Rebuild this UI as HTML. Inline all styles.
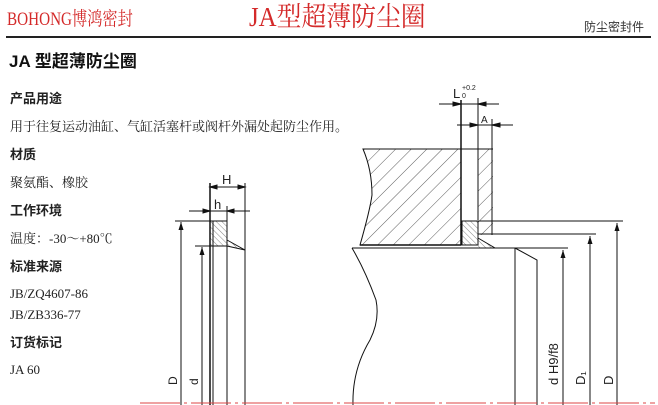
<!DOCTYPE html>
<html><head><meta charset="utf-8"><style>
body{margin:0;width:658px;height:405px;background:#fff;position:relative;overflow:hidden;font-family:"Liberation Serif","Noto Serif CJK SC",serif;}
.t{position:absolute;white-space:nowrap;line-height:1;}
.b{font-family:"Liberation Sans","Noto Sans CJK SC",sans-serif;font-weight:bold;font-size:13px;color:#222;}
.n{font-size:13px;color:#222;}
</style></head><body>
<div class="t" style="left:7px;top:10px;font-size:19px;color:#d42a2a;transform:scaleX(0.8);transform-origin:left;">BOHONG博鸿密封</div>
<div class="t" style="left:249px;top:4px;font-size:27px;color:#d42a2a;transform:scaleX(0.92);transform-origin:left;">JA型超薄防尘圈</div>
<div class="t" style="left:584px;top:21px;font-size:12px;color:#333;font-family:'Liberation Sans','Noto Sans CJK SC',sans-serif;">防尘密封件</div>
<div style="position:absolute;left:6px;top:36px;width:645px;height:2px;background:#222"></div>
<div class="t" style="left:9px;top:53px;font-size:17px;font-weight:bold;color:#111;font-family:'Liberation Sans','Noto Sans CJK SC',sans-serif;">JA 型超薄防尘圈</div>
<div class="t b" style="left:10px;top:92px">产品用途</div>
<div class="t n" style="left:10px;top:120px">用于往复运动油缸、气缸活塞杆或阀杆外漏处起防尘作用。</div>
<div class="t b" style="left:10px;top:148px">材质</div>
<div class="t n" style="left:10px;top:176px">聚氨酯、橡胶</div>
<div class="t b" style="left:10px;top:204px">工作环境</div>
<div class="t n" style="left:10px;top:232px">温度：-30～+80℃</div>
<div class="t b" style="left:10px;top:260px">标准来源</div>
<div class="t n" style="left:10px;top:287px">JB/ZQ4607-86</div>
<div class="t n" style="left:10px;top:308px">JB/ZB336-77</div>
<div class="t b" style="left:10px;top:336px">订货标记</div>
<div class="t n" style="left:10px;top:363px">JA 60</div>
<svg width="658" height="405" style="position:absolute;left:0;top:0" xmlns="http://www.w3.org/2000/svg">
<defs>
<pattern id="h" patternUnits="userSpaceOnUse" width="11" height="11" patternTransform="rotate(45)"><line x1="0" y1="0" x2="0" y2="11" stroke="#333" stroke-width="0.8"/></pattern>
<pattern id="h2" patternUnits="userSpaceOnUse" width="4" height="4" patternTransform="rotate(-45)"><line x1="0" y1="0" x2="0" y2="4" stroke="#333" stroke-width="0.6"/></pattern>
<marker id="a" markerWidth="8" markerHeight="6" refX="8" refY="3" orient="auto"><path d="M0,0.5 L8,3 L0,5.5z" fill="#111"/></marker>
</defs>
<g stroke="#111" stroke-width="1" fill="none">
<rect x="210" y="221" width="17" height="25" fill="url(#h2)"/>
<path d="M227,240 L245,250 L227,246" fill="url(#h2)"/>
<line x1="210" y1="183" x2="210" y2="405" stroke-width="1.5"/>
<line x1="213" y1="221" x2="213" y2="405"/>
<line x1="227" y1="206" x2="227" y2="405"/>
<line x1="245" y1="183" x2="245" y2="405"/>
<line x1="210" y1="187" x2="245" y2="187"/>
<path d="M210,187 l7,-2 v4z M245,187 l-7,-2 v4z" fill="#111"/>
<line x1="189" y1="211" x2="250" y2="211"/>
<path d="M210,211 l-7,-2 v4z M227,211 l7,-2 v4z" fill="#111"/>
<line x1="175" y1="221" x2="210" y2="221"/>
<line x1="195" y1="246" x2="210" y2="246"/>
<line x1="181" y1="405" x2="181" y2="222" marker-end="url(#a)"/>
<line x1="202" y1="405" x2="202" y2="247" marker-end="url(#a)"/>
<path d="M363,149 L461,149 L461,245 L360,245 Q370,210 372,195 Q372,170 363,149z" fill="url(#h)"/>
<path d="M478,149 L493,149 L493,235 L478,235 L478,220 Z" fill="url(#h)" stroke="none"/>
<line x1="461" y1="149" x2="493" y2="149"/>
<line x1="461" y1="100" x2="461" y2="245" stroke-width="1.5"/>
<line x1="478" y1="98" x2="478" y2="220"/>
<line x1="492" y1="119" x2="492" y2="235"/>
<line x1="360" y1="245" x2="461" y2="245" stroke-width="1.5"/>
<rect x="462" y="221" width="16" height="24" fill="url(#h2)"/>
<path d="M478,238 L495,248 L478,248" fill="url(#h2)"/>
<line x1="478" y1="221" x2="623" y2="221"/>
<line x1="478" y1="234" x2="596" y2="234"/>
<line x1="352" y1="248" x2="568" y2="248"/>
<line x1="515" y1="248" x2="515" y2="405"/>
<path d="M515,248 L537,260 L537,405"/>
<path d="M352,248 Q365,270 376,300 Q380,320 370,340 Q352,370 353,405"/>
<line x1="563" y1="405" x2="563" y2="250" marker-end="url(#a)"/>
<line x1="590" y1="405" x2="590" y2="236" marker-end="url(#a)"/>
<line x1="617" y1="405" x2="617" y2="223" marker-end="url(#a)"/>
<line x1="439" y1="104" x2="499" y2="104"/>
<path d="M461,104 l-8,-2 v4z M478,104 l8,-2 v4z" fill="#111"/>
<line x1="457" y1="125" x2="513" y2="125"/>
<path d="M478,125 l-8,-2 v4z M492,125 l8,-2 v4z" fill="#111"/>
</g>
<line x1="140" y1="403" x2="655" y2="403" stroke="#d44" stroke-width="1" stroke-dasharray="40,4,3,4"/>
<g font-family="Liberation Sans,sans-serif" fill="#222">
<text x="222" y="184" font-size="13">H</text>
<text x="214" y="209" font-size="13">h</text>
<text x="453" y="98" font-size="13">L</text>
<text x="462" y="90" font-size="7">+0.2</text>
<text x="462" y="98" font-size="7">0</text>
<text x="481" y="123" font-size="10">A</text>
<text transform="translate(177,385) rotate(-90)" font-size="12">D</text>
<text transform="translate(198,385) rotate(-90)" font-size="12">d</text>
<text transform="translate(558,385) rotate(-90)" font-size="13">d H9/f8</text>
<text transform="translate(585,385) rotate(-90)" font-size="13">D₁</text>
<text transform="translate(613,385) rotate(-90)" font-size="13">D</text>
</g>
</svg>
</body></html>
